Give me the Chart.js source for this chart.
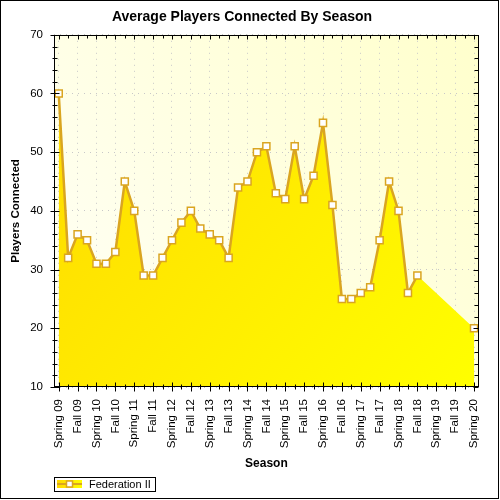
<!DOCTYPE html>
<html>
<head>
<meta charset="utf-8">
<script src="https://cdn.jsdelivr.net/npm/chart.js@4/dist/chart.umd.min.js"></script>
<style>
  html, body { margin: 0; padding: 0; background: #fff; }
  canvas { display: block; }
</style>
</head>
<body>
<canvas id="players-chart" width="500" height="500"></canvas>
<script>
// seasons on the x axis (one label every second slot)
const seasons = ['Spring 09', 'Fall 09', 'Spring 10', 'Fall 10', 'Spring 11', 'Fall 11',
  'Spring 12', 'Fall 12', 'Spring 13', 'Fall 13', 'Spring 14', 'Fall 14', 'Spring 15',
  'Fall 15', 'Spring 16', 'Fall 16', 'Spring 17', 'Fall 17', 'Spring 18', 'Fall 18',
  'Spring 19', 'Fall 19', 'Spring 20'];

// average players connected per slot, null = no reading
const players = [60, 32, 36, 35, 31, 31, 33, 45, 40, 29,
  29, 32, 35, 38, 40, 37, 36, 35, 32, 44,
  45, 50, 51, 43, 42, 51, 42, 46, 55, 41,
  25, 25, 26, 27, 35, 45, 40, 26, 29,
  null, null, null, null, null, 20];

const yTicks = [10, 20, 30, 40, 50, 60, 70];

const FONT = "'Liberation Sans', Arial, sans-serif";
const GOLD = '#daa520';

// slots: season label, then an unnamed slot between two seasons
const labels = [];
seasons.forEach((s, i) => {
  if (i > 0) labels.push('');
  labels.push(s);
});

function areaFill(context) {
  const a = context.chart.chartArea;
  if (!a) return '#ffe800';
  const g = context.chart.ctx.createLinearGradient(a.left, a.top, a.right, a.bottom);
  g.addColorStop(0, '#ffd800');
  g.addColorStop(1, '#ffff00');
  return g;
}

function line(ctx, x1, y1, x2, y2) {
  ctx.beginPath();
  ctx.moveTo(x1, y1);
  ctx.lineTo(x2, y2);
  ctx.stroke();
}

// background, frame with tick marks, legend and outer border
const chartDecor = {
  id: 'chartDecor',
  beforeDraw(chart) {
    const { ctx, chartArea: a } = chart;
    const g = ctx.createLinearGradient(a.left, a.bottom, a.right, a.top);
    g.addColorStop(0, '#fffff8');
    g.addColorStop(1, '#ffffcc');
    ctx.save();
    ctx.fillStyle = g;
    ctx.fillRect(a.left, a.top, a.width, a.height);
    ctx.restore();
  },
  afterDraw(chart) {
    const { ctx, chartArea: a, scales } = chart;
    const L = Math.round(a.left) + 0.5, R = Math.round(a.right) - 0.5;
    const T = Math.round(a.top) + 0.5, B = Math.round(a.bottom) - 0.5;
    ctx.save();
    ctx.strokeStyle = '#000';
    ctx.lineWidth = 1;
    ctx.strokeRect(L, T, R - L, B - T);

    // y ticks, every 2 units
    for (let v = yTicks[0]; v <= yTicks[yTicks.length - 1]; v += 2) {
      const y = Math.round(scales.y.getPixelForValue(v)) + 0.5;
      const major = v % 10 === 0;
      line(ctx, L - (major ? 4 : 2), y, L + (major ? 5 : 3), y);
      line(ctx, R - (major ? 5 : 4), y, R, y);
    }
    // x ticks, every slot
    labels.forEach((lab, i) => {
      const x = Math.round(scales.x.getPixelForValue(i)) + 0.5;
      const major = i % 2 === 0;
      line(ctx, x, B - (major ? 4 : 2), x, B + (major ? 5 : 3));
      line(ctx, x, T, x, T + (major ? 4 : 3));
    });

    // legend
    const lx = 54.5, ly = 477.5;
    ctx.strokeRect(lx, ly, 101, 14);
    const lg = ctx.createLinearGradient(57, 0, 82, 0);
    lg.addColorStop(0, '#ffd800');
    lg.addColorStop(1, '#ffff00');
    ctx.fillStyle = lg;
    ctx.fillRect(57, 480, 25, 8);
    ctx.strokeStyle = GOLD;
    ctx.lineWidth = 2;
    line(ctx, 57, 484, 82, 484);
    ctx.lineWidth = 1.5;
    ctx.fillStyle = '#fff';
    ctx.fillRect(66.5, 481, 6, 6);
    ctx.strokeRect(66.5, 481, 6, 6);
    ctx.fillStyle = '#000';
    ctx.font = '11px ' + FONT;
    ctx.textBaseline = 'middle';
    ctx.fillText('Federation II', 89, 484.5);

    // outer border
    ctx.strokeStyle = '#000';
    ctx.lineWidth = 1;
    ctx.strokeRect(0.5, 0.5, 498, 498);
    ctx.restore();
  }
};

new Chart(document.getElementById('players-chart'), {
  type: 'line',
  data: {
    labels: labels,
    datasets: [{
      label: 'Federation II',
      data: players,
      borderColor: GOLD,
      borderWidth: 2.5,
      fill: false,
      spanGaps: false,
      tension: 0,
      pointStyle: 'rect',
      pointRadius: 5,
      pointBackgroundColor: '#fff',
      pointBorderColor: GOLD,
      pointBorderWidth: 1.5,
      order: 1
    }, {
      label: 'area',
      data: players,
      borderColor: 'rgba(0,0,0,0)',
      borderWidth: 0,
      pointRadius: 0,
      fill: 'start',
      spanGaps: true,
      tension: 0,
      backgroundColor: areaFill,
      order: 2
    }]
  },
  options: {
    responsive: false,
    animation: false,
    devicePixelRatio: 1,
    layout: { padding: { top: 0, left: 0, right: 16, bottom: 28 } },
    plugins: {
      legend: { display: false },
      tooltip: { enabled: false },
      title: {
        display: true,
        text: 'Average Players Connected By Season',
        color: '#000',
        font: { family: FONT, size: 14, weight: 'bold' },
        padding: { top: 9, bottom: 9 }
      }
    },
    scales: {
      x: {
        offset: true,
        grid: {
          color: c => c.index % 2 === 0 ? '#c8c8c8' : 'rgba(0,0,0,0)',
          drawTicks: false
        },
        border: { display: false, dash: [1, 5] },
        ticks: {
          autoSkip: false,
          minRotation: 90,
          maxRotation: 90,
          padding: 12,
          color: '#000',
          font: { family: FONT, size: 11.5 }
        },
        title: {
          display: true,
          text: 'Season',
          color: '#000',
          font: { family: FONT, size: 12, weight: 'bold' },
          padding: { top: 0, bottom: 1 }
        },
        afterFit(scale) { scale.height = 85; }
      },
      y: {
        min: yTicks[0],
        max: yTicks[yTicks.length - 1],
        grid: { color: '#c8c8c8', drawTicks: false },
        border: { display: false, dash: [1, 5] },
        ticks: {
          stepSize: yTicks[1] - yTicks[0],
          padding: 11,
          color: '#000',
          font: { family: FONT, size: 11.5 }
        },
        title: {
          display: true,
          text: 'Players Connected',
          color: '#000',
          font: { family: FONT, size: 11.5, weight: 'bold' },
          padding: { top: 9, bottom: 0 }
        },
        afterFit(scale) { scale.width = 54; }
      }
    }
  },
  plugins: [chartDecor]
});
</script>
</body>
</html>
